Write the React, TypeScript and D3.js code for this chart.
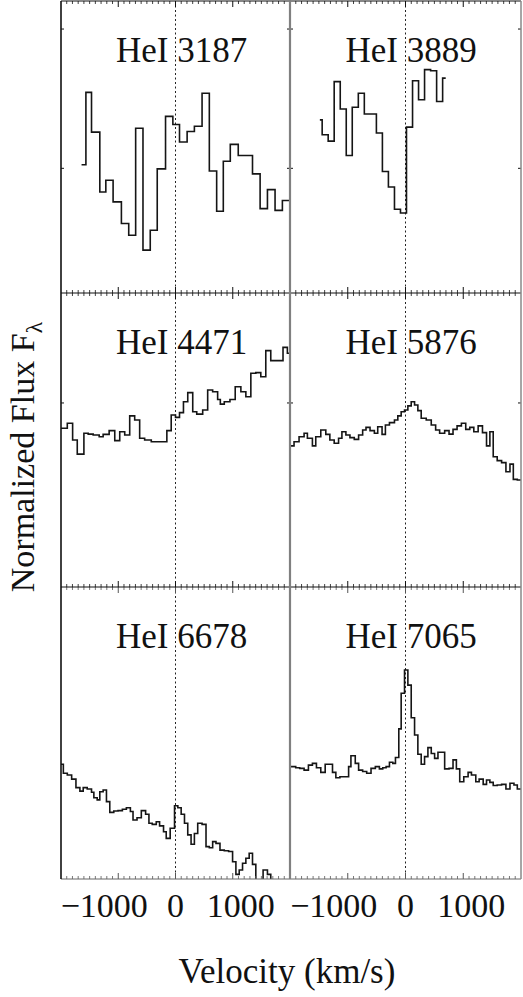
import React from "react";
import * as d3 from "d3";

// ---------- data (velocity bin edges in km/s, normalized flux per bin) ----------
const vel3187 = [-1641, -1565, -1467, -1322, -1217, -1090, -945, -817, -696, -568, -441, -319, -174, -46, 70, 203, 330, 464, 591, 719, 835, 957, 1096, 1217, 1345, 1478, 1606, 1739, 1867, 1983];
const flux3187 = [0.439, 0.687, 0.551, 0.346, 0.386, 0.312, 0.238, 0.198, 0.564, 0.147, 0.215, 0.425, 0.605, 0.577, 0.517, 0.553, 0.571, 0.684, 0.418, 0.280, 0.451, 0.509, 0.471, 0.471, 0.408, 0.289, 0.354, 0.283, 0.317];

const vel3889 = [-1483, -1443, -1339, -1235, -1130, -1026, -922, -817, -713, -609, -504, -400, -296, -191, -87, 17, 122, 226, 330, 435, 539, 643, 696];
const flux3889 = [0.593, 0.542, 0.520, 0.724, 0.630, 0.471, 0.636, 0.684, 0.613, 0.613, 0.548, 0.416, 0.363, 0.287, 0.274, 0.568, 0.727, 0.662, 0.765, 0.761, 0.656, 0.736];

const vel4471 = [-2000, -1890, -1797, -1716, -1600, -1525, -1438, -1333, -1264, -1159, -1061, -974, -887, -800, -713, -626, -539, -423, -278, -151, -75, 0, 70, 139, 214, 301, 371, 475, 562, 649, 736, 783, 852, 951, 1043, 1142, 1229, 1316, 1403, 1490, 1577, 1664, 1780, 1878, 1954, 1995];
const flux4471 = [0.540, 0.557, 0.500, 0.452, 0.523, 0.520, 0.517, 0.511, 0.519, 0.532, 0.498, 0.528, 0.517, 0.582, 0.568, 0.506, 0.500, 0.494, 0.494, 0.532, 0.585, 0.577, 0.593, 0.630, 0.661, 0.596, 0.588, 0.602, 0.670, 0.664, 0.638, 0.622, 0.630, 0.638, 0.681, 0.664, 0.647, 0.727, 0.729, 0.715, 0.804, 0.770, 0.770, 0.815, 0.795];

const vel5876 = [-1995, -1930, -1843, -1756, -1699, -1612, -1554, -1467, -1380, -1310, -1235, -1159, -1101, -1032, -962, -887, -812, -742, -684, -614, -539, -481, -406, -348, -278, -191, -133, -75, -17, 41, 99, 157, 214, 272, 359, 446, 522, 591, 678, 754, 823, 893, 968, 1043, 1113, 1183, 1258, 1333, 1403, 1461, 1519, 1588, 1664, 1739, 1809, 1867, 1936, 2000];
const flux5876 = [0.480, 0.494, 0.511, 0.523, 0.506, 0.480, 0.511, 0.534, 0.519, 0.500, 0.489, 0.506, 0.528, 0.517, 0.508, 0.502, 0.517, 0.534, 0.543, 0.532, 0.523, 0.545, 0.519, 0.551, 0.559, 0.568, 0.582, 0.596, 0.602, 0.616, 0.630, 0.619, 0.600, 0.574, 0.568, 0.551, 0.534, 0.523, 0.532, 0.520, 0.536, 0.548, 0.557, 0.536, 0.543, 0.528, 0.548, 0.525, 0.480, 0.528, 0.443, 0.430, 0.423, 0.392, 0.418, 0.366, 0.364];

const vel6678 = [-2000, -1959, -1890, -1814, -1739, -1670, -1612, -1542, -1467, -1426, -1368, -1322, -1264, -1206, -1148, -1078, -1003, -928, -858, -788, -742, -672, -597, -522, -464, -406, -336, -278, -209, -162, -93, -17, 41, 99, 157, 214, 272, 330, 388, 464, 533, 591, 649, 707, 777, 852, 928, 997, 1055, 1113, 1171, 1229, 1287, 1345, 1403, 1461, 1530, 1606, 1664, 1722];
const flux6678 = [0.393, 0.362, 0.356, 0.342, 0.313, 0.301, 0.313, 0.308, 0.297, 0.278, 0.271, 0.299, 0.305, 0.265, 0.228, 0.233, 0.234, 0.239, 0.244, 0.231, 0.202, 0.210, 0.234, 0.222, 0.191, 0.187, 0.196, 0.182, 0.162, 0.139, 0.174, 0.251, 0.244, 0.222, 0.191, 0.151, 0.119, 0.156, 0.191, 0.187, 0.111, 0.107, 0.128, 0.122, 0.099, 0.097, 0.094, 0.059, 0.016, 0.031, 0.054, 0.071, 0.088, 0.050, -0.003, -0.021, 0.031, 0.016, -0.021];

const vel7065 = [-1995, -1901, -1832, -1756, -1681, -1612, -1542, -1467, -1391, -1322, -1264, -1206, -1136, -1061, -985, -945, -870, -812, -742, -672, -597, -522, -452, -394, -336, -278, -220, -174, -116, -75, -17, 41, 99, 157, 214, 272, 330, 388, 446, 504, 562, 620, 678, 754, 823, 881, 939, 1009, 1084, 1142, 1217, 1275, 1345, 1403, 1461, 1519, 1588, 1664, 1739, 1809, 1878, 1936, 2000];
const flux7065 = [0.385, 0.381, 0.379, 0.373, 0.390, 0.396, 0.381, 0.365, 0.393, 0.393, 0.365, 0.347, 0.350, 0.350, 0.385, 0.422, 0.396, 0.373, 0.368, 0.362, 0.379, 0.385, 0.377, 0.381, 0.385, 0.400, 0.396, 0.416, 0.514, 0.636, 0.716, 0.664, 0.552, 0.493, 0.427, 0.393, 0.419, 0.450, 0.430, 0.413, 0.434, 0.434, 0.377, 0.379, 0.408, 0.377, 0.333, 0.350, 0.365, 0.356, 0.333, 0.342, 0.324, 0.339, 0.331, 0.320, 0.322, 0.324, 0.308, 0.328, 0.322, 0.308];

const lineNames = ["HeI 3187", "HeI 3889", "HeI 4471", "HeI 5876", "HeI 6678", "HeI 7065"];
const velSeries = [vel3187, vel3889, vel4471, vel5876, vel6678, vel7065];
const fluxSeries = [flux3187, flux3889, flux4471, flux5876, flux6678, flux7065];

const velDomain = [-2000, 2000];
const fluxDomain = [0, 1];
const majorTicks = [-1000, 0, 1000];
const majorTickLabels = ["\u22121000", "0", "1000"];
const yTicksByRow = [[0.904, 0.427], [0.626], []];

// ---------- layout ----------
const W = 523;
const H = 997;
const colX = [[61, 290], [290, 521]];
const rowY = [[1, 293], [293, 587], [587, 879]];
const FONT = "'Liberation Serif', 'Times New Roman', Times, serif";

export default function App() {
  const xScales = colX.map(([a, b]) => d3.scaleLinear().domain(velDomain).range([a, b]));
  const yScales = rowY.map(([t, b]) => d3.scaleLinear().domain(fluxDomain).range([b, t]));
  const minorTicks = d3.range(-1900, 2000, 100).filter((v) => v % 1000 !== 0);
  const labelShift = (t: number) => (t < 0 ? -14 : t > 0 ? 8 : 0);

  const panels = lineNames.map((name, i) => {
    const row = Math.floor(i / 2);
    const col = i % 2;
    const x = xScales[col];
    const y = yScales[row];
    const vel = velSeries[i];
    const flux = fluxSeries[i];
    const pts = vel.map((v, k) => [v, flux[Math.min(k, flux.length - 1)]] as [number, number]);
    const line = d3
      .line<[number, number]>()
      .x((d) => x(d[0]))
      .y((d) => y(d[1]))
      .curve(d3.curveStepAfter);
    return { name, row, col, x, y, path: line(pts) || "", i };
  });

  return (
    <svg
      width={W}
      height={H}
      style={{ position: "absolute", left: 0, top: 0, background: "#fff" }}
      fontFamily={FONT}
    >
      <rect x={0} y={0} width={W} height={H} fill="#fff" />
      <defs>
        {panels.map((p) => (
          <clipPath id={`clip${p.i}`} key={p.i}>
            <rect
              x={colX[p.col][0]}
              y={rowY[p.row][0]}
              width={colX[p.col][1] - colX[p.col][0]}
              height={rowY[p.row][1] - rowY[p.row][0]}
            />
          </clipPath>
        ))}
      </defs>

      {panels.map((p) => {
        const [x0, x1] = colX[p.col];
        const [yt, yb] = rowY[p.row];
        const tickColor = p.row === 2 ? "#555" : "#111";
        return (
          <g key={p.i}>
            {/* zero-velocity dotted line */}
            <line
              x1={p.x(0)}
              x2={p.x(0)}
              y1={yt}
              y2={yb}
              stroke="#222"
              strokeWidth={1}
              strokeDasharray="2,2.5"
            />
            {/* spectrum */}
            <path
              d={p.path}
              fill="none"
              stroke="#151515"
              strokeWidth={1.6}
              clipPath={`url(#clip${p.i})`}
            />
            {/* x ticks top and bottom */}
            {majorTicks.map((t) => (
              <g key={`M${t}`}>
                <line x1={p.x(t)} x2={p.x(t)} y1={yt} y2={yt + 6} stroke={tickColor} strokeWidth={1} />
                <line x1={p.x(t)} x2={p.x(t)} y1={yb} y2={yb - 6} stroke={tickColor} strokeWidth={1} />
              </g>
            ))}
            {minorTicks.map((t) => (
              <g key={`m${t}`}>
                <line x1={p.x(t)} x2={p.x(t)} y1={yt} y2={yt + 3} stroke={tickColor} strokeWidth={0.8} />
                <line x1={p.x(t)} x2={p.x(t)} y1={yb} y2={yb - 3} stroke={tickColor} strokeWidth={0.8} />
              </g>
            ))}
            {/* y ticks both sides */}
            {yTicksByRow[p.row].map((t) => (
              <g key={`y${t}`}>
                <line x1={x0} x2={x0 + 3} y1={p.y(t)} y2={p.y(t)} stroke="#111" strokeWidth={1} />
                <line x1={x1} x2={x1 - 3} y1={p.y(t)} y2={p.y(t)} stroke="#111" strokeWidth={1} />
              </g>
            ))}
            {/* line label */}
            <text x={p.x(-1040)} y={yt + 61} fontSize={35} fill="#111">
              {p.name}
            </text>
          </g>
        );
      })}

      {/* frame */}
      <line x1={61} x2={521} y1={1} y2={1} stroke="#111" strokeWidth={1.2} />
      <line x1={61} x2={521} y1={293} y2={293} stroke="#111" strokeWidth={1} />
      <line x1={61} x2={521} y1={587} y2={587} stroke="#111" strokeWidth={1} />
      <line x1={61} x2={521} y1={879} y2={879} stroke="#666" strokeWidth={1} />
      <line x1={61} x2={61} y1={1} y2={879} stroke="#111" strokeWidth={1.6} />
      <line x1={290} x2={290} y1={0} y2={879} stroke="#808080" strokeWidth={2.2} />
      <line x1={521} x2={521} y1={1} y2={879} stroke="#888" strokeWidth={1.5} />

      {/* x tick labels */}
      {xScales.map((x, c) =>
        majorTicks.map((t, k) => (
          <text
            key={`${c}-${t}`}
            x={x(t) + labelShift(t)}
            y={917}
            fontSize={34}
            textAnchor="middle"
            fill="#111"
          >
            {majorTickLabels[k]}
          </text>
        ))
      )}

      {/* axis titles */}
      <text x={287} y={983} fontSize={35} textAnchor="middle" fill="#111">
        Velocity (km/s)
      </text>
      <text
        transform="translate(34,457) rotate(-90)"
        fontSize={34}
        textAnchor="middle"
        fill="#111"
      >
        Normalized Flux F
        <tspan fontSize={24} dy={8}>
          λ
        </tspan>
      </text>
    </svg>
  );
}
